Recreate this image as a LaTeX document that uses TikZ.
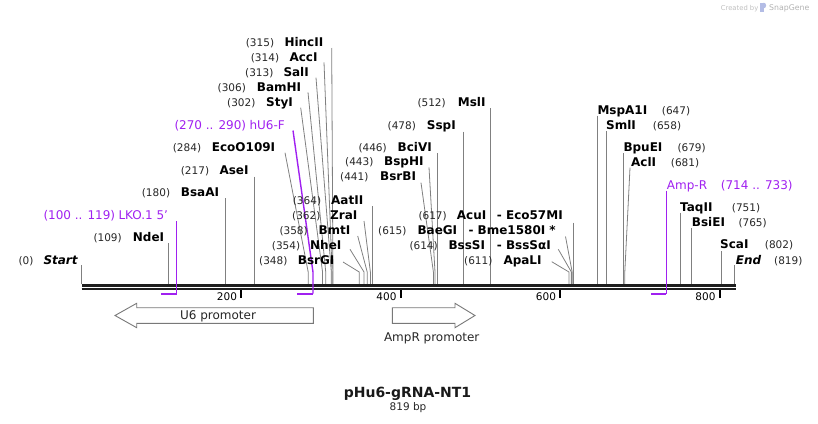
\documentclass[tikz,border=0pt]{standalone}
\usepackage{fontspec}
\setmainfont{DejaVu Sans}
\definecolor{prim}{RGB}{160,32,240}
\definecolor{cutc}{RGB}{128,128,128}
\definecolor{bbc}{RGB}{30,30,30}
\definecolor{featc}{RGB}{120,120,120}
\newcommand\xp[1]{81.7+0.7975*#1}
% label: id, num x, num text, name x, name text, row y
\newcommand\elab[6]{\node[num] (#1n) at (#2,#6+4.3) {#3}; \node[enz] (#1) at (#4,#6+4.3) {#5};}
% slanted cut line: [style] id, start x, start y, position
\newcommand\cutl[5][cut]{\coordinate (#2s) at (#3,#4); \coordinate (#2k) at ({\xp{#5}},272); \coordinate (#2b) at ({\xp{#5}},284); \draw[#1] (#2s) -- (#2k) -- (#2b);}
% vertical cut line: id, start y, position
\newcommand\cutv[3]{\coordinate (#1s) at ({\xp{#3}},#2); \coordinate (#1b) at ({\xp{#3}},284); \draw[cut] (#1s) -- (#1b);}
\begin{document}
\begin{tikzpicture}[x=1pt,y=-1pt,
  num/.style={anchor=base west,inner sep=0,font=\fontsize{10.5}{12}\selectfont,text=black!85},
  enz/.style={anchor=base west,inner sep=0,font=\fontsize{12}{14}\selectfont\bfseries},
  enzi/.style={anchor=base west,inner sep=0,font=\fontsize{12}{14}\selectfont\bfseries\itshape},
  primtxt/.style={anchor=base west,inner sep=0,font=\fontsize{12}{14}\selectfont,text=prim},
  cut/.style={draw=cutc,line width=0.8pt},
  primline/.style={draw=prim,line width=1.4pt},
  primbar/.style={draw=prim,line width=2pt},
  feat/.style={draw=featc,fill=white,line width=0.9pt,line join=miter},
  ticklab/.style={anchor=base east,inner sep=0,font=\fontsize{10.5}{12}\selectfont}]
\useasboundingbox (0,0) rectangle (818,423);

% ---- watermark
\fill[cyan!35!blue!30] (760,2.5) rectangle (763.5,12);
\fill[cyan!35!blue!30] (763.5,2.5) .. controls (767,3) and (767,8) .. (763.5,8.5) -- cycle;
\node[anchor=base west,inner sep=0,font=\fontsize{6.8}{8}\selectfont,text=black!25] (wm1) at (720.7,10.2) {Created by};
\node[anchor=base west,inner sep=0,font=\fontsize{7.8}{9}\selectfont,text=black!30] (wm2) at (769,10.6) {SnapGene};

% ---- cut lines
\cutv{Start}{265}{0}
\cutv{NdeI}{243}{109}
\cutv{BsaAI}{198}{180}
\cutv{AseI}{176.7}{217}
\cutl{EcoO}{285}{152.7}{284}
\cutl{StyI}{300.7}{107.7}{302}
\cutl{BamHI}{308}{92.3}{306}
\cutl{SalI}{316}{77.7}{313}
\cutl{AccI}{324}{62.3}{314}
\cutl{HincII}{331.7}{48}{315}
\cutl{BsrGI}{343}{262}{348}
\cutl{NheI}{350}{249.3}{354}
\cutl{BmtI}{357.7}{236}{358}
\cutl{ZraI}{364}{221}{362}
\cutv{AatII}{206}{364}
\cutl{BsrBI}{421}{182.7}{441}
\cutl{BspHI}{429}{167.3}{443}
\cutv{BciVI}{153.3}{446}
\cutv{SspI}{131.7}{478}
\cutv{MslI}{108}{512}
\cutl{ApaLI}{551.7}{261.7}{611}
\cutl{BssSI}{558.3}{249.3}{614}
\cutl{BaeGI}{565.5}{236.5}{615}
\cutv{AcuI}{222.7}{617}
\cutv{MspAI}{115.7}{647}
\cutv{SmlI}{131}{658}
\cutv{BpuEI}{153.3}{679}
\cutl{AclI}{630}{167.7}{681}
\cutv{TaqII}{212.7}{751}
\cutv{BsiEI}{228.3}{765}
\cutv{ScaI}{251}{802}
\cutv{End}{265}{819}

% ---- backbone
\coordinate (bbL1) at ({\xp{0}},285.5); \coordinate (bbR1) at (735.8,285.5);
\coordinate (bbL2) at ({\xp{0}},289); \coordinate (bbR2) at (735.8,289);
\draw[bbc,line width=2.5pt] (bbL1) -- (bbR1);
\draw[bbc,line width=2.5pt] (bbL2) -- (bbR2);

% ---- ticks
\foreach \p in {200,400,600,800}{
  \draw[black,line width=2pt] ({\xp{\p}},290) -- ({\xp{\p}},297.5);
  \node[ticklab] (t\p) at ({\xp{\p}-4},300.5) {\p};
}

% ---- primers
\coordinate (lkoT) at ({\xp{119}},221); \coordinate (lkoB) at ({\xp{119}},293.5);
\draw[primline] (lkoT) -- (lkoB);
\draw[primbar] ({\xp{100}},293.5) -- (lkoB);
\coordinate (huS) at (293,130.5); \coordinate (huK) at ({\xp{290}},272); \coordinate (huB) at ({\xp{290}},293.5);
\draw[primline] (huS) -- (huK) -- (huB);
\draw[primbar] ({\xp{270}},293.5) -- (huB);
\coordinate (ampT) at ({\xp{733}},190.7); \coordinate (ampB) at ({\xp{733}},293.5);
\draw[primline] (ampT) -- (ampB);
\draw[primbar] ({\xp{714}},293.5) -- (ampB);

% ---- left labels
\node[num] (Startn) at (18.3,264.3) {(0)};
\node[enzi] (StartL) at (43.3,264.3) {Start};
\elab{NdeI}{93.3}{(109)}{132.7}{NdeI}{237}
\node[primtxt] (lkon) at (43.3,219.3) {(100 .. 119)};
\node[primtxt] (lko) at (118.3,219.3) {LKO.1 5'};
\elab{BsaAI}{141.7}{(180)}{180.7}{BsaAI}{192}
\elab{AseI}{180.7}{(217)}{219.3}{AseI}{170}
\elab{EcoO}{172.7}{(284)}{211.7}{EcoO109I}{146.7}
\node[primtxt] (hun) at (174.3,129.3) {(270 .. 290)};
\node[primtxt] (hu) at (249.3,129.3) {hU6-F};
\elab{StyI}{227}{(302)}{266}{StyI}{101.7}
\elab{BamHI}{217.5}{(306)}{256.7}{BamHI}{86.7}
\elab{SalI}{245}{(313)}{283.3}{SalI}{71.7}
\elab{AccI}{250.7}{(314)}{289.3}{AccI}{56.7}
\elab{HincII}{245.7}{(315)}{284.3}{HincII}{41.7}

% ---- cluster right of 300
\elab{AatII}{292.7}{(364)}{331}{AatII}{200}
\elab{ZraI}{292}{(362)}{330}{ZraI}{215}
\elab{BmtI}{279.3}{(358)}{318.3}{BmtI}{230}
\elab{NheI}{271.7}{(354)}{310}{NheI}{245}
\elab{BsrGI}{259}{(348)}{297.7}{BsrGI}{260}

% ---- middle labels
\elab{MslI}{417.3}{(512)}{457.7}{MslI}{101.7}
\elab{SspI}{387.5}{(478)}{426.7}{SspI}{125}
\elab{BciVI}{358.3}{(446)}{397.5}{BciVI}{146.7}
\elab{BspHI}{345}{(443)}{384}{BspHI}{161}
\elab{BsrBI}{340}{(441)}{380}{BsrBI}{176}

\elab{AcuI}{418.3}{(617)}{456.7}{AcuI}{215}
\node[enz] (Eco57) at (496.7,219.3) {- Eco57MI};
\elab{BaeGI}{378}{(615)}{417.3}{BaeGI}{230}
\node[enz] (Bme) at (468.3,234.3) {- Bme1580I *};
\elab{BssSI}{409.3}{(614)}{448.3}{BssSI}{245}
\node[enz] (BssSa) at (496.7,249.3) {- BssSαI};
\elab{ApaLI}{464}{(611)}{503.3}{ApaLI}{260}

% ---- right labels (name first)
\node[enz] (MspAI) at (597.3,114.3) {MspA1I};  \node[num] (MspAIn) at (661.7,114.3) {(647)};
\node[enz] (SmlI) at (606,129.3) {SmlI};       \node[num] (SmlIn) at (652.7,129.3) {(658)};
\node[enz] (BpuEI) at (623.3,151) {BpuEI};     \node[num] (BpuEIn) at (677.3,151) {(679)};
\node[enz] (AclI) at (631,166) {AclI};         \node[num] (AclIn) at (670.7,166) {(681)};
\node[primtxt] (amp) at (666.7,189.3) {Amp-R}; \node[primtxt] (ampn) at (720.7,189.3) {(714 .. 733)};
\node[enz] (TaqII) at (680,211) {TaqII};       \node[num] (TaqIIn) at (731.7,211) {(751)};
\node[enz] (BsiEI) at (691.7,226.6) {BsiEI};   \node[num] (BsiEIn) at (738.3,226.6) {(765)};
\node[enz] (ScaI) at (720,248.3) {ScaI};       \node[num] (ScaIn) at (764.7,248.3) {(802)};
\node[enzi] (EndL) at (735.7,264.3) {End};     \node[num] (Endn) at (774,264.3) {(819)};

% ---- features
\draw[feat] (313.3,307.7) -- (136.7,307.7) -- (136.7,303.3) -- (115,315.5) -- (136.7,327.7) -- (136.7,323.3) -- (313.3,323.3) -- cycle;
\node[anchor=base,inner sep=0,font=\fontsize{12}{14}\selectfont,text=black!85] (u6) at (218,319.6) {U6 promoter};
\draw[feat] (392.3,307.7) -- (455,307.7) -- (455,303.3) -- (475,315.5) -- (455,327.7) -- (455,323.3) -- (392.3,323.3) -- cycle;
\node[anchor=base,inner sep=0,font=\fontsize{12}{14}\selectfont,text=black!85] (ampr) at (431.7,341.1) {AmpR promoter};

% ---- title
\node[anchor=base,inner sep=0,font=\fontsize{14}{16}\selectfont\bfseries,text=black!90] (title) at (407.5,397.8) {pHu6-gRNA-NT1};
\node[anchor=base,inner sep=0,font=\fontsize{10.5}{12}\selectfont,text=black!85] (len) at (408,410.5) {819 bp};
\end{tikzpicture}
\end{document}
